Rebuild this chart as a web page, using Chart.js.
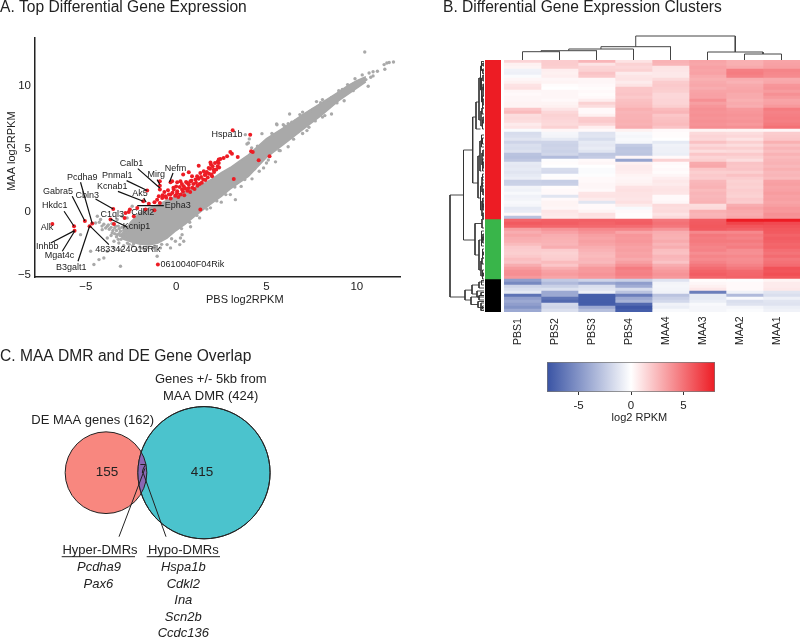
<!DOCTYPE html>
<html>
<head>
<meta charset="utf-8">
<title>MAA differential expression</title>
<script src="https://cdn.jsdelivr.net/npm/chart.js@4"></script>
<style>
  html, body { margin: 0; padding: 0; background: #fff; }
  body { width: 800px; height: 639px; position: relative; overflow: hidden; }
  canvas { position: absolute; }
</style>
</head>
<body>
<script>
// ---------- A. scatter ----------
const bandX = [-3.1, -2.9, -2.5, -2, -1.5, -1, -0.5, 0, 0.5, 1, 1.5, 2, 2.5, 3, 3.5, 4, 5, 6, 7, 8, 9, 9.5, 10, 10.5];
const bandUpper = [-1.9, -1.6, -0.8, -0.1, 0.3, 0.55, 0.9, 1.25, 1.6, 1.9, 2.2, 2.6, 3.1, 3.5, 4, 4.5, 5.8, 6.7, 7.7, 8.6, 9.5, 10, 10.4, 10.7];
const bandLower = [-1.9, -2.2, -2.4, -2.6, -2.65, -2.5, -2.1, -1.5, -1, -0.4, 0.15, 0.7, 1.2, 1.8, 2.3, 2.8, 4.3, 5.4, 6.5, 7.6, 8.8, 9.3, 9.8, 10.3];

const greyPoints = [
  [10.44,12.67],[11.79,11.83],[12.03,11.88],[11.66,11.8],[11.51,11.67],[11.55,11.3],[11.14,11.14],[10.68,11],[10.9,10.77],
  [10.5,10.48],[10.77,10.66],[10.63,9.95],[9.49,10.08],[8.42,8.83],[8.1,8.89],[7.77,8.73],[7.57,8.1],[6.28,7.75],[6.85,7.7],
  [5.56,6.96],[5.93,6.9],[6.2,6.98],[4.75,6.19],[5.76,4.84],[7.24,6.43],[8.23,7.62],[8.9,8.63],[4.05,5.77],[3.92,5.37],[4.18,5.06],
  [3.28,0.95],[4.48,3.73],[5,3.86],[4.84,3.47],[3.83,6.11],[4,5.45],[5.58,6.9],[0.33,-1.83],[0.24,-2.09],[-0.04,-2.35],[-0.5,-2.62],
  [0.42,-2.35],[0.2,-2.62],[-0.87,-2.88],[-0.31,-2.88],[-1.05,-3.54],[-3.08,-4.34],[-4.55,-4.2],[-4.27,-3.81],[-4,-3.68],[-3.81,-3.15],
  [-3.44,-2.88],[-3.08,-3.02],[-3.17,-2.49],[-3.44,-2.35],[-3.81,-2.09],[-4.09,-1.43],[-3.81,-1.16],[-3.54,-1.69],[-3.26,-1.83],
  [-3.08,-1.56],[-2.8,-1.69],[-2.89,-2.09],[-2.62,-1.43],[-3.35,-1.16],[-4.18,-0.63],[-4.36,-0.37],[-4.46,-0.9],[-5.29,-1.83],[-4.73,-3.15],
  [-2.71,-0.5],[-2.98,-0.37],[-3.26,-0.63],[-2.43,0.42],[-2.25,-0.63],[-4.25,-0.85],[-4,-1],[-3.7,-1.4],[-3.4,-1.3],[-3.1,-1.9],
  [-3.6,-1.9],[-3.2,-2.2],[-2.7,-2.5],[-2.4,-2.7],[-2,-2.8],[-1.6,-2.85],[-1.2,-2.75],[-1.7,-3.05],[-2.2,-3.05],[-2.9,-2.7],[0.8,-1.2],
  [1.3,-0.5],[1.9,0.3],[2.5,0.75],[3,1.35],[3.6,2],[4.2,2.6],[4.6,3.2],[5.5,3.95],[6.2,5.15],[7,6.2],[7.7,7.2],[8.6,7.75],[9.3,8.8],[9.8,9.6],
  [10.2,10.2],[7,7.9],[6.4,7.1],[5.3,6.2],[4.5,5.2],[9,9.6],[9.9,10.55],[10.3,10.85],[10.9,11.1],
  [-4.1,-1.15],[-3.9,-1.3],[-3.75,-1.05],[-3.6,-1.25],[-3.5,-1.5],[-3.3,-1.5],[-3.2,-1.15],[-3.15,-1.35],[-3,-1.25],[-2.9,-1.5],[-2.8,-1.2],
  [-3.55,-0.95],[-3.4,-1.75],[-3.15,-1.75],[-2.95,-1.8],[-3.3,-2],[-3.05,-2.2],[-2.75,-2.15],[-2.6,-2.6],[-2.35,-2.55],[-1.85,-2.9],
  [-1.3,-2.9],[-0.8,-2.6],[-0.25,-2.15],[0.3,-1.35],[0.75,-0.85],[1.15,-0.3],[1.7,0.2],[2.25,0.85],[2.75,1.35],[3.25,1.95],[3.8,2.55],
  [4.35,3.4],[5.1,4.1],[5.7,4.85],[6.5,5.75],[7.35,6.7],[8.1,7.5],[5.4,6.1],[6,6.8],[6.6,7.2],[7.4,7.95],[8,8.65],[8.6,9.05],[9.2,9.7]
];

const redPoints = [
  [3.13,6.45],[4.1,6.11],[4.15,4.79],[4.24,4.74],[3.41,4.34],[3.09,4.6],[3,4.74],[2.82,4.39],[2.63,4.26],[2.45,4.18],[5.17,4.39],[4.57,4.07],
  [3.19,2.59],[1.34,0.16],[1.25,3.65],[0.7,3.12],[0.39,2.94],[1.9,3.9],[1.93,3.73],[2.36,4.13],[2.36,3.86],[2.3,3.6],[2.08,3.33],[1.8,3.47],
  [1.99,2.8],[1.53,3.2],[1.62,2.94],[1.16,2.8],[1.34,3.07],[1.07,2.54],[0.79,2.41],[0.88,2.8],[0.61,2.28],[0.7,1.88],[0.42,2.01],[0.24,2.41],
  [0.06,2.33],[-0.22,2.41],[-0.31,2.33],[0.33,1.75],[0.06,1.61],[-0.13,1.75],[-0.31,1.35],[-0.59,1.22],[-0.77,1.08],[-0.96,1.22],[-0.9,0.69],
  [-1.05,0.95],[-0.9,2.41],[-0.9,2.06],[-0.9,1.75],[-1.6,1.67],[-1.82,0.82],[-1.51,0.63],[-1.2,0.74],[-3.48,0.21],[-2.56,0.16],[-2.62,-0.03],
  [-2.8,-0.11],[-2.85,-0.5],[-2.34,-0.37],[-2.15,0.29],[-1.69,0.16],[-1.2,0.11],[-3.44,-0.98],[-3.63,-0.63],[-5.05,-0.74],[-4.64,-0.95],
  [-4.79,-1.16],[-5.65,-1.16],[-5.62,-1.51],[-6.85,-0.98],[-1.01,-4.2],
  [-0.75,1.3],[-0.65,1.55],[-0.55,1.1],[-0.45,1.7],[-0.4,1.35],[-0.3,1.05],[-0.2,1.5],[-0.15,1.9],[-0.05,1.25],[0,2],[0.05,1.45],[0.12,1.15],
  [0.2,1.95],[0.25,1.35],[0.32,2.2],[0.38,1.6],[0.45,1.3],[0.5,1.85],[0.55,2.35],[0.62,1.65],[0.7,2.15],[0.78,1.55],[0.85,2.45],[0.9,1.9],
  [0.95,2.2],[1.02,1.8],[1.1,2.3],[1.18,2.05],[1.25,2.6],[1.3,2.2],[1.38,2.75],[1.42,2.3],[1.5,2.55],[1.58,2.9],[1.62,2.5],[1.7,3.15],
  [1.75,2.7],[1.82,3],[1.88,3.4],[1.95,2.95],[2.02,3.6],[2.1,3.15],[2.15,3.85],[2.22,3.35],[2.3,3.95],[2.38,3.5]
];

const geneNames = ['Hspa1b','Calb1','Pnmal1','Mirg','Nefm','Pcdha9','Kcnab1','Gabra5','Ak5','Cbln3','Hkdc1','Epha3','C1ql3','Cdkl2','Kcnip1','Alk','Inhbb','4833424O15Rik','Mgat4c','B3galt1','0610040F04Rik'];
const geneLabelX = [2.82,-2.47,-3.26,-1.1,-0.04,-5.19,-3.54,-6.54,-2,-4.92,-6.72,0.09,-3.54,-1.84,-2.19,-7.15,-7.13,-2.67,-6.46,-5.8,0.9];
const geneLabelY = [6.14,3.84,2.88,2.91,3.44,2.7,1.98,1.61,1.4,1.3,0.5,0.5,-0.26,-0.11,-1.22,-1.27,-2.8,-3.02,-3.47,-4.42,-4.23];
const geneLeaders = [
  [-2.12,3.41,-0.9,1.88],[-2.74,2.46,-1.6,1.67],[-1.05,2.54,-0.9,2.14],[-0.17,3.07,-0.37,2.33],[-5.29,2.33,-4.64,-0.95],
  [-3.22,1.61,-1.82,0.82],[-5.75,1.22,-5.05,-0.74],[-1.79,1.08,-1.66,0.74],[-4.46,1,-3.48,0.21],[-6.2,0.03,-5.65,-1.16],
  [-2.15,0.48,-0.68,0.48],[-3.63,-0.58,-2.71,-1.22],[-6.94,-2.49,-5.62,-1.51],[-6.3,-3.15,-5.62,-1.56],[-5.43,-3.94,-4.79,-1.16],
  [-3.72,-2.62,-4.79,-1.11]
];

// ---------- B. heatmap, log2 RPKM per gene row ----------
const sampleNames = ['PBS1','PBS2','PBS3','PBS4','MAA4','MAA3','MAA2','MAA1'];
const redClusterRows = [
  [1.5,1.8,2.6,1,2.7,3.2,2.8,3.2],[0.5,1.8,1,1.6,2.6,3.1,2.8,3.3],[0.4,1.7,1.5,1.4,1,3.3,3,3.4],[-0.6,0.6,1.6,1.6,0.9,3.2,4.5,4.3],
  [-0.7,0.5,2.1,0.7,0.8,3.3,4.6,4.2],[-0.2,0.6,1.9,0.9,0.8,3,4.4,4.1],[0.3,0.3,0.3,1,1.3,2.8,2.9,3],[0.5,0.4,0.3,0.7,1.8,3,2.7,3.1],
  [1,0.1,0.2,1,1.9,3.1,3,3.7],[1.1,0,0.1,2,1.8,2.9,3.1,3.8],[0.3,0.3,0.2,2,1.7,3.2,3.2,3.5],[0.2,0.3,0.1,2.1,1.4,3.3,3,3.9],
  [0.3,0.3,0.2,1.9,1.4,3.3,3,3.6],[0.3,0.2,0.6,2.2,1.5,3.9,2.8,3.2],[0.4,0.4,1.6,2.3,1.5,3.4,3,3.3],[0.4,0.5,1.2,2.4,1.7,3.7,2.9,3.6],
  [2,0.9,0.2,2.8,2.4,3.9,3.6,4.6],[2.4,1.4,0.2,2.6,2.6,3.8,3.7,4.4],[1.2,1.6,0.5,2.7,2,3.9,3.8,4.5],[1.3,1.5,1.8,2.7,2.2,3.8,3.7,4.6],
  [1.2,1.4,1.9,2.8,2.3,3.9,3.8,4.5],[0.7,1.3,1.5,2.7,2.4,3.8,3.6,4.7],[0.9,1.6,0.6,2.9,2.1,4,3.9,5],[-0.2,0.3,0.2,0.5,0.2,0.4,0.4,0.3],
  [-1.6,-0.4,-1.3,-0.3,0.1,1.3,1.2,1.8],[-1.5,-0.5,-1.2,-0.4,0.1,1.5,1.4,1.9],[-1.2,-1,-1.6,-0.3,0,1.4,1,2],[-2,-2,-1,-0.4,-1,2.2,1.7,2.8],
  [-1.5,-2.1,-1.1,-2.4,-0.6,1.4,1.2,2.2],[-1.6,-2,-0.9,-2.7,-0.7,1.8,1.7,2.6],[-1.4,-2.1,-1.2,-2.6,-0.7,1.2,1.3,2.3],[-2.8,-1.9,-2.6,-2.7,-0.8,2,1.9,2.7],
  [-2.9,-3.1,-2.4,0.3,0.2,1.5,1.6,2.4],[-2.6,-0.1,0.2,-4.3,1.6,1.7,1.2,2.6],[-1,0.1,0.3,0.5,0.2,3,2.1,2.7],[-1.1,0,0,0.7,0.1,3.1,2,2.5],
  [-1,-1.6,-0.2,0.7,0.2,2,2.1,2.8],[-1.2,-1.7,-0.2,0.6,0.1,1.7,1.7,2.5],[-1,-0.1,-0.1,0.4,0.3,1.9,2.2,2.6],[-0.8,0.1,0.2,0.3,0.6,1.8,1.8,2.4],
  [-2.2,-2.3,0.2,0.4,0.8,2.5,1.6,3.3],[-2.1,-2.2,0.3,0.5,0.7,2.6,1.7,3.4],[-0.5,0.1,0.3,1,0.9,2.7,1.6,3.2],[-0.6,0.2,0.2,1.1,1,2.4,1.8,3.3],
  [-0.3,0.2,0.9,1,0.9,2.6,1.7,3.5],[-0.6,-1.2,1,1,0.2,2.5,1.6,3.3],[-0.5,0.2,0.7,0.9,0.2,2.6,1.9,3.4],[-0.3,0.4,-1.2,1.1,0.3,2.7,1.8,3.2],
  [-0.4,0.4,0.2,0.7,1.3,1.2,2.9,3.4],[-1,0.3,0.2,-0.3,1.2,1.3,3.2,3.7],[-0.9,0.9,0.4,0.2,1.3,2.8,3,3.6],[0.2,0.8,1.1,0.1,1,2.6,2.9,3.9],
  [-2.8,0.7,1,0.1,1.3,2.7,3.1,3.8]
];
const greenClusterRows = [
  [5.4,5.6,5.6,5.6,4.8,5.7,8,8],[5.8,5.7,5.5,5.7,5,5.8,6.6,6.4],[5.5,5.4,5.3,5.2,4.8,5.9,6,6.1],[3.4,3.8,4.2,4.3,3.8,5.8,5.6,5.9],
  [2.9,3.3,3.8,3.2,2.9,4.2,4.2,5.8],[3.2,2.9,3.4,3.7,2.8,4.8,4.6,5.5],[2.9,2.8,3.2,3.6,2.7,4.6,4.4,5.7],[2.8,2.7,3.4,3.7,3,4.7,4.7,5.6],
  [2.4,2.6,3.2,3.5,2.6,4.5,4.4,5.4],[1.9,2.9,2.9,3.3,2.9,4.3,4.6,5.5],[1.8,1.8,2.7,3.4,2.3,4.4,4,5.1],[1.7,1.6,2.5,3.2,2.2,4,3.9,4.9],
  [1.9,1.7,2.4,3.3,2.6,4.3,4.2,5.2],[2.3,1.8,2.6,3,2.5,4.1,4,4.8],[2.1,2.4,2.5,3.4,2.1,4.4,4.1,5],[2.9,2,3,3.9,2.9,4.8,4.4,5.2],
  [3.5,2.8,3.6,4.6,3.3,5.2,4.8,6.1],[3.9,3.3,3.6,4.4,3.6,5.5,5.3,6],[4,3.5,3.8,4.5,3.8,5.7,5.4,6.2],[3.6,3.2,3.6,4.2,3.6,5.4,5.5,5.9]
];
const blackClusterRows = [
  [-4.5,-2.5,-2,-2.2,-1.3,0.1,-0.1,0.4],[-5.5,-3.2,-4,-4.5,-0.5,0.3,0.2,0.7],[-2,-2.2,-1.5,-3.8,-0.4,0.5,0.2,0.7],[-1.5,-1.4,-1.2,-1.5,-0.5,0.8,0.2,0.8],
  [-1,-4,-0.7,-2.8,-0.6,-6,-0.6,-1.2],[-6.5,-4,-7.5,-6,-2.8,-1,-3.2,-1.5],[-4.5,-6.5,-7.5,-4,-2.2,-1,-0.3,-0.7],[-4,-7,-7.5,-3.5,-1.8,-0.8,-1.5,-1.2],
  [-4.5,-1.8,-7.5,-7,-0.6,-0.3,-1.3,-1.3],[-5,-2,-4,-7.8,-0.8,-0.4,-0.4,-0.8],[-4,-1.5,-3,-7.5,-0.3,-0.4,-0.2,-0.6]
];
const heatRows = [...redClusterRows, ...greenClusterRows, ...blackClusterRows];
const clusterColours = ['#ed1c24', '#39b54a', '#000000'];
const clusterSizes = [redClusterRows.length, greenClusterRows.length, blackClusterRows.length];

// dendrogram merges: [leaf pos A, height A, leaf pos B, height B, merge height]
const topMerges = [
  [0.5,0,1.5,0,8.3],[1,8.3,2.5,0,9.3],[1.75,9.3,3.5,0,11],[2.62,11,4.5,0,13.3],
  [6.5,0,7.5,0,6],[5.5,0,7,6,8],[3.56,13.3,6.25,8,24]
];
const leftMerges = [
  [45,20.5,79,19,34],[30,11.3,60,9,20.5],[19,8,41,6,11.3],[14,5,23,3.5,8],[6,3.5,20,3,5],[2,2.5,10,2.5,3.5],[0.5,0,3.5,0,2.5],[6,1,14,1.5,2.5],
  [5,0,7,0,1],[9,0,12,0,1],[12,0,16,0,1.5],[17,2,22,1.5,3],[16,0,18,0,2],[20,0,23,0,1.5],[1,0,2,0,1],[3,0,4.5,0,1.2],[8,0,10,0,0.8],[13,0,15,0,1],[19,0,21,0,1],
  [32,4,46,3.5,6],[27,2.5,37,2.5,4],[25,0,29,0,2.5],[31,1,35,1,2],[30,0,32,0,1],[34,0,36,0,1],[26,0,28,0,1.5],[38,0,40,0,1.5],[39,0,42,0,2],
  [42,2,50,2,3.5],[41,0,44,0,2],[43,0,45,0,1],[47,0,52,0,2],[48,0,50,0,1],[46,0,49,0,1.2],[33,0,37,0,1.4],[51,0,53,0,1],
  [54.5,2,65,5,9],[53,0,56,0,2],[60,2.5,70,3,5],[57,0,62,0,2.5],[58,0,60,0,1],[63,0,66,0,1.5],[67,2,72,1.5,3],[66,0,68,0,2],[70,0,73,0,1.5],[59,0,61,0,1.2],[64,0,65,0,0.8],[71,0,72,0,0.8],
  [76.7,12,80,13,19],[75,5,78,7,12],[74,0,76,0,5],[77,0,79,0,7],[79,5,81.5,6,13],[78.5,0,80,0,5],[80.5,0,82.5,0,6],[81,0,83.5,0,3],[73.5,0,75,0,2.5],[77.5,0,78.5,0,3],[82,0,83,0,1.5]
];

const colourBarTicks = [-5, 0, 5];
const colourBarStops = [-8, -4, 0, 4, 8];

// ---------- C. venn ----------
const vennCounts = { dmr: 424, de: 162 };
const vennCentres = { de: [106, 102.7], dmr: [204, 102.7] };
const vennLeaders = [[119,166.7,145,98.3],[166,166.7,143.3,103.3]];
const vennUnderlines = [[61.7,186.7,135,186.7],[146.7,186.7,220,186.7]];

// ---------- helpers ----------
Chart.defaults.font.family = "'Liberation Sans', Arial, sans-serif";
Chart.defaults.color = '#222';
Chart.defaults.animation = false;
Chart.defaults.responsive = false;
Chart.defaults.events = [];
Chart.defaults.layout.autoPadding = false;
Chart.defaults.plugins.legend.display = false;
Chart.defaults.plugins.tooltip.enabled = false;

function addCanvas(left, top, width, height) {
  const c = document.createElement('canvas');
  c.width = width;
  c.height = height;
  c.style.left = left + 'px';
  c.style.top = top + 'px';
  c.style.width = width + 'px';
  c.style.height = height + 'px';
  document.body.appendChild(c);
  return c;
}

// real text placed through the chart's own scales
function textMarks(items) {
  return {
    id: 'textMarks',
    afterDraw(chart) {
      const ctx = chart.ctx;
      items.forEach(t => {
        ctx.save();
        ctx.translate(chart.scales.x.getPixelForValue(t.x), chart.scales.y.getPixelForValue(t.y));
        if (t.rotate) ctx.rotate(t.rotate * Math.PI / 180);
        ctx.font = (t.style ? t.style + ' ' : '') + t.size + "px 'Liberation Sans', Arial, sans-serif";
        ctx.fillStyle = t.color || '#222';
        ctx.textAlign = t.align || 'center';
        ctx.textBaseline = 'middle';
        ctx.fillText(t.text, 0, 0);
        ctx.restore();
      });
    }
  };
}

function heatColour(v) {
  const hi = v >= 0 ? [237, 28, 36] : [57, 83, 164];
  const t = Math.min(Math.abs(v) / 8, 1);
  const mix = hi.map(c => Math.round(255 + (c - 255) * t));
  return `rgb(${mix[0]},${mix[1]},${mix[2]})`;
}

function mergePath(merges, toPoint) {
  const pts = [];
  merges.forEach(([a, ha, b, hb, h]) => {
    pts.push(toPoint(a, ha), toPoint(a, h), toPoint(b, h), toPoint(b, hb), { x: null, y: null });
  });
  return pts;
}

function leaderPath(rows) {
  const pts = [];
  rows.forEach(([x1, y1, x2, y2]) => pts.push({ x: x1, y: y1 }, { x: x2, y: y2 }, { x: null, y: null }));
  return pts;
}

const asXY = list => list.map(p => ({ x: p[0], y: p[1] }));
const minusSign = v => String(v).replace('-', '\u2212');

// ---------- chart A ----------
new Chart(addCanvas(0, 0, 412, 310), {
  type: 'scatter',
  data: {
    datasets: [
      { data: leaderPath(geneLeaders), showLine: true, borderColor: '#111', borderWidth: 1.2, pointRadius: 0, order: 1 },
      { data: asXY(redPoints), backgroundColor: '#ed1c24', pointRadius: 2, borderWidth: 0, order: 2 },
      { data: asXY(greyPoints), backgroundColor: '#a9a9a9', pointRadius: 1.7, borderWidth: 0, order: 3 },
      { data: bandX.map((x, i) => ({ x, y: bandUpper[i] })), showLine: true, borderColor: '#a9a9a9', borderWidth: 1.5, pointRadius: 0, backgroundColor: '#a9a9a9', fill: '+1', order: 4 },
      { data: bandX.map((x, i) => ({ x, y: bandLower[i] })), showLine: true, borderColor: '#a9a9a9', borderWidth: 1.5, pointRadius: 0, order: 4 }
    ]
  },
  options: {
    layout: { padding: { right: 12 } },
    plugins: {
      title: {
        display: true, text: 'A. Top Differential Gene Expression', align: 'start', color: '#222',
        font: { size: 15.6, weight: 'normal', lineHeight: 1 }, padding: { top: 0, bottom: 22.4 }
      }
    },
    scales: {
      x: {
        min: -7.81, max: 12.39,
        grid: { display: false, drawTicks: false },
        border: { color: '#222', width: 1.5 },
        afterFit: s => { s.height = 33; },
        ticks: { stepSize: 5, includeBounds: false, padding: 3, maxRotation: 0, font: { size: 11.5 }, color: '#222', callback: minusSign }
      },
      y: {
        min: -5.19, max: 13.78,
        grid: { display: false, drawTicks: false },
        border: { color: '#222', width: 1.5 },
        afterFit: s => { s.width = 35; },
        ticks: { stepSize: 5, includeBounds: false, padding: 4, font: { size: 11.5 }, color: '#222', callback: minusSign }
      }
    }
  },
  plugins: [textMarks([
    ...geneNames.map((text, i) => ({ text, x: geneLabelX[i], y: geneLabelY[i], size: 9 })),
    { text: 'PBS log2RPKM', x: 3.8, y: -7, size: 11 },
    { text: 'MAA log2RPKM', x: -9.1, y: 4.8, size: 11, rotate: -90 }
  ])]
});

// ---------- chart B: top dendrogram + panel title ----------
new Chart(addCanvas(443, 0, 357, 60), {
  type: 'scatter',
  data: {
    datasets: [{
      data: mergePath(topMerges, (pos, h) => ({ x: pos, y: h })),
      showLine: true, borderColor: '#444', borderWidth: 1, pointRadius: 0, clip: false
    }]
  },
  options: {
    plugins: {
      title: {
        display: true, text: 'B. Differential Gene Expression Clusters', align: 'start', color: '#222',
        font: { size: 15.6, weight: 'normal', lineHeight: 1 }, padding: { top: 0, bottom: 14.4 }
      }
    },
    scales: {
      x: { display: false, min: 0, max: 8 },
      y: {
        min: 0, max: 30,
        grid: { display: false }, border: { display: false }, ticks: { display: false },
        afterFit: s => { s.width = 61; }
      }
    }
  }
});

// left dendrogram
new Chart(addCanvas(445, 60, 39, 252), {
  type: 'scatter',
  data: {
    datasets: [{
      data: mergePath(leftMerges, (row, h) => ({ x: h, y: row })),
      showLine: true, borderColor: '#333', borderWidth: 0.9, pointRadius: 0, clip: false
    }]
  },
  options: {
    scales: {
      x: { display: false, min: 0, max: 39, reverse: true },
      y: { display: false, min: 0, max: 84, reverse: true }
    }
  }
});

// cluster side bar
new Chart(addCanvas(485, 60, 16, 252), {
  type: 'bar',
  data: {
    labels: ['cluster'],
    datasets: clusterSizes.map((n, i) => ({ data: [n], backgroundColor: clusterColours[i], barPercentage: 1, categoryPercentage: 1 }))
  },
  options: {
    scales: {
      x: { display: false, stacked: true },
      y: { display: false, stacked: true, min: 0, max: 84, reverse: true }
    }
  }
});

// heatmap cells: one stacked horizontal dataset per sample
new Chart(addCanvas(504, 60, 296, 290), {
  type: 'bar',
  data: {
    labels: heatRows.map((r, i) => i),
    datasets: sampleNames.map((name, col) => ({
      label: name,
      data: heatRows.map(() => 1),
      backgroundColor: heatRows.map(r => heatColour(r[col])),
      borderWidth: 0, barPercentage: 1, categoryPercentage: 1
    }))
  },
  options: {
    indexAxis: 'y',
    layout: { padding: { bottom: 38 } },
    scales: {
      x: { display: false, stacked: true, min: 0, max: 8 },
      y: { display: false, stacked: true }
    }
  },
  plugins: [textMarks(sampleNames.map((text, i) => ({ text, x: i + 0.38, y: 94.5, size: 10.5, rotate: -90, align: 'left' })))]
});

// colour key
new Chart(addCanvas(530, 355, 200, 70), {
  type: 'bar',
  data: {
    labels: ['log2 RPKM'],
    datasets: [{
      data: [[-8, 8]],
      barPercentage: 1, categoryPercentage: 1, borderColor: '#777', borderWidth: 1, borderSkipped: false,
      backgroundColor: ctx => {
        const area = ctx.chart.chartArea;
        if (!area) return '#fff';
        const g = ctx.chart.ctx.createLinearGradient(area.left, 0, area.right, 0);
        colourBarStops.forEach(v => g.addColorStop((v + 8) / 16, heatColour(v)));
        return g;
      }
    }]
  },
  options: {
    indexAxis: 'y',
    layout: { padding: { left: 17, right: 15, top: 7 } },
    scales: {
      x: {
        min: -8, max: 8,
        grid: { drawOnChartArea: false, drawTicks: true, tickLength: 3, color: '#333' },
        border: { display: false },
        afterBuildTicks: s => { s.ticks = colourBarTicks.map(value => ({ value })); },
        afterFit: s => { s.height = 33; },
        ticks: { padding: 4, maxRotation: 0, font: { size: 11.5 }, color: '#222' }
      },
      y: { display: false }
    }
  },
  plugins: [textMarks([{ text: 'log2 RPKM', x: 0.8, y: 1.37, size: 11 }])]
});

// ---------- chart C ----------
const lensPlugin = {
  id: 'lens',
  afterDatasetDraw(chart, args) {
    if (args.index !== 1) return;
    const [de] = chart.getDatasetMeta(0).data;
    const [dmr] = chart.getDatasetMeta(1).data;
    const ctx = chart.ctx;
    ctx.save();
    ctx.beginPath();
    ctx.arc(dmr.x, dmr.y, dmr.options.radius, 0, Math.PI * 2);
    ctx.clip();
    ctx.beginPath();
    ctx.arc(de.x, de.y, de.options.radius, 0, Math.PI * 2);
    ctx.fillStyle = '#8a67b4';
    ctx.fill();
    ctx.strokeStyle = '#222';
    ctx.lineWidth = 1;
    ctx.stroke();
    ctx.restore();
    ctx.save();
    ctx.beginPath();
    ctx.arc(dmr.x, dmr.y, dmr.options.radius, 0, Math.PI * 2);
    ctx.strokeStyle = '#222';
    ctx.lineWidth = 1;
    ctx.stroke();
    ctx.restore();
  }
};

const bubble = (key, colour, order) => ({
  type: 'bubble',
  data: [{ x: vennCentres[key][0], y: vennCentres[key][1], r: Math.sqrt(vennCounts[key]) * 3.21 }],
  backgroundColor: colour, borderColor: '#222', borderWidth: 1, order, clip: false
});

new Chart(addCanvas(0, 340, 300, 299), {
  type: 'scatter',
  data: {
    datasets: [
      bubble('de', '#f8877f', 4),
      bubble('dmr', '#4bc3cd', 3),
      { data: leaderPath(vennLeaders), showLine: true, borderColor: '#222', borderWidth: 1, pointRadius: 0, order: 1 },
      { data: leaderPath(vennUnderlines), showLine: true, borderColor: '#222', borderWidth: 1, pointRadius: 0, order: 1 }
    ]
  },
  options: {
    plugins: {
      title: {
        display: true, text: 'C. MAA DMR and DE Gene Overlap', align: 'start', color: '#222',
        font: { size: 15.6, weight: 'normal', lineHeight: 1 }, padding: { top: 9, bottom: 5.4 }
      }
    },
    scales: {
      x: { display: false, min: 0, max: 300 },
      y: { display: false, min: 0, max: 269, reverse: true }
    }
  },
  plugins: [lensPlugin, textMarks([
    { text: 'Genes +/- 5kb from', x: 210.7, y: 9.3, size: 13 },
    { text: 'MAA DMR (424)', x: 210.7, y: 26, size: 13 },
    { text: 'DE MAA genes (162)', x: 92.7, y: 50, size: 13 },
    { text: '155', x: 107, y: 102.7, size: 13.5 },
    { text: '7', x: 143, y: 100, size: 12 },
    { text: '415', x: 202, y: 102.7, size: 13.5 },
    { text: 'Hyper-DMRs', x: 100, y: 180.7, size: 13 },
    { text: 'Hypo-DMRs', x: 183.3, y: 180.7, size: 13 },
    { text: 'Pcdha9', x: 99, y: 197.3, size: 13, style: 'italic' },
    { text: 'Pax6', x: 98.3, y: 214, size: 13, style: 'italic' },
    { text: 'Hspa1b', x: 183.3, y: 197.3, size: 13, style: 'italic' },
    { text: 'Cdkl2', x: 183.3, y: 214, size: 13, style: 'italic' },
    { text: 'Ina', x: 183.3, y: 230.7, size: 13, style: 'italic' },
    { text: 'Scn2b', x: 183.3, y: 247.3, size: 13, style: 'italic' },
    { text: 'Ccdc136', x: 183.3, y: 263, size: 13, style: 'italic' }
  ])]
});
</script>
</body>
</html>
